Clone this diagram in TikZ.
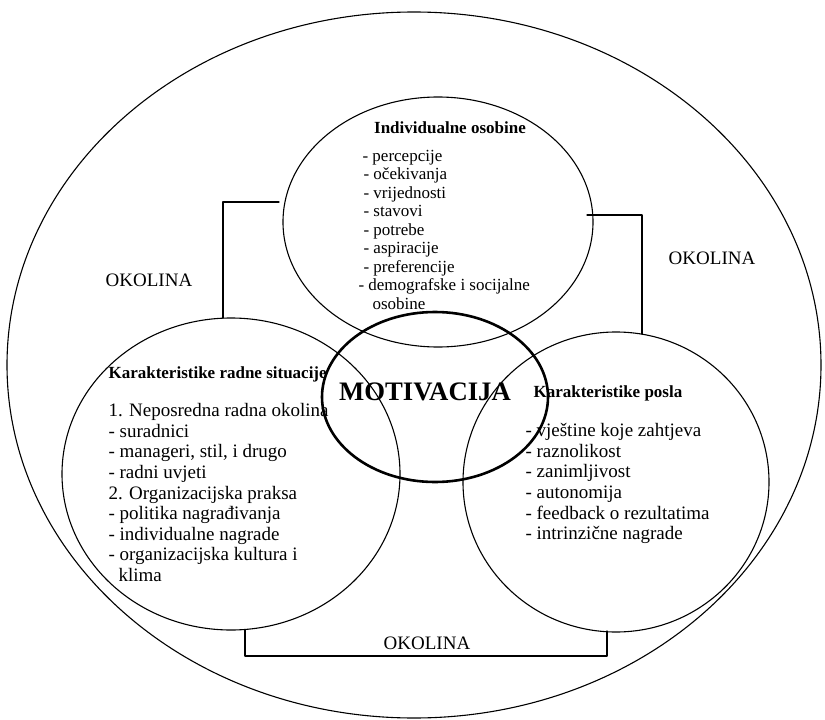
\documentclass[tikz,border=0pt]{standalone}
\usepackage{fontspec}
\setmainfont{Liberation Serif}
\begin{document}
\begin{tikzpicture}[x=1pt, y=-1pt, line join=round, line cap=round, line width=1.1pt,
		listtext/.style={align=left, inner sep=0pt, anchor=north west, font=\fontsize{19}{20.6}\selectfont},
		toptext/.style={align=left, inner sep=0pt, anchor=north west, font=\fontsize{17}{18.5}\selectfont},
		titletext/.style={inner sep=0pt, anchor=base west, font=\fontsize{17}{20}\selectfont\bfseries},
		okolina/.style={inner sep=0pt, anchor=base, font=\fontsize{19}{22}\selectfont}]
			\path
			(0,0) coordinate (NW)
			(825,720) coordinate (SE)
			(414,365) coordinate (O)
			(438,222) coordinate (T)
			(231,474) coordinate (L)
			(616,482) coordinate (R)
			(435,397) coordinate (M)
			(279,202) coordinate (TL)
			(223,318) coordinate (LT)
			(587,215) coordinate (TR)
			(642,334) coordinate (RT)
			(245,630) coordinate (LB)
			(607,656) coordinate (BR)
			(607,631) coordinate (RB)
			;
			\useasboundingbox (NW) rectangle (SE);
			% okolina i tri kruga
			\draw (O) ellipse (407 and 353);
			\draw (T) ellipse (155 and 125);
			\draw (L) ellipse (169 and 156);
			\draw (R) ellipse (153 and 150);
			\draw[line width=2.6pt] (M) ellipse (113 and 85);
			% spojnice
			\draw (TL) -| (LT);
			\draw (TR) -| (RT);
			\draw (LB) |- (BR) -- (RB);
			% tekstovi
			\node[okolina] (okL) at (149,286) {OKOLINA};
			\node[okolina] (okR) at (712,264) {OKOLINA};
			\node[okolina] (okB) at (427,649) {OKOLINA};
			\node[inner sep=0pt, anchor=base, font=\fontsize{26.7}{30}\selectfont\bfseries] (mot) at (425,400) {MOTIVACIJA};
			\node[titletext, anchor=base] (tT) at (450,133) {Individualne osobine};
			\node[toptext] (lT) at (358,149.5) {\hspace*{4pt}- percepcije\\
				\hspace*{5pt}- očekivanja\\
				\hspace*{5pt}- vrijednosti\\
				\hspace*{5pt}- stavovi\\
				\hspace*{5pt}- potrebe\\
				\hspace*{5pt}- aspiracije\\
				\hspace*{5pt}- preferencije\\
				- demografske i socijalne\\
				\hspace*{14pt}osobine};
			\node[titletext] (tL) at (108,378) {Karakteristike radne situacije};
			\node[listtext] (lL) at (108,403) {1. Neposredna radna okolina\\
				- suradnici\\
				- manageri, stil, i drugo\\
				- radni uvjeti\\
				2. Organizacijska praksa\\
				- politika nagrađivanja\\
				- individualne nagrade\\
				- organizacijska kultura i\\
				\hspace*{10pt}klima};
			\node[titletext] (tR) at (533,397) {Karakteristike posla};
			\node[listtext] (lR) at (525,423) {- vještine koje zahtjeva\\
				- raznolikost\\
				- zanimljivost\\
				- autonomija\\
				- feedback o rezultatima\\
				- intrinzične nagrade};
		\end{tikzpicture}
\end{document}
